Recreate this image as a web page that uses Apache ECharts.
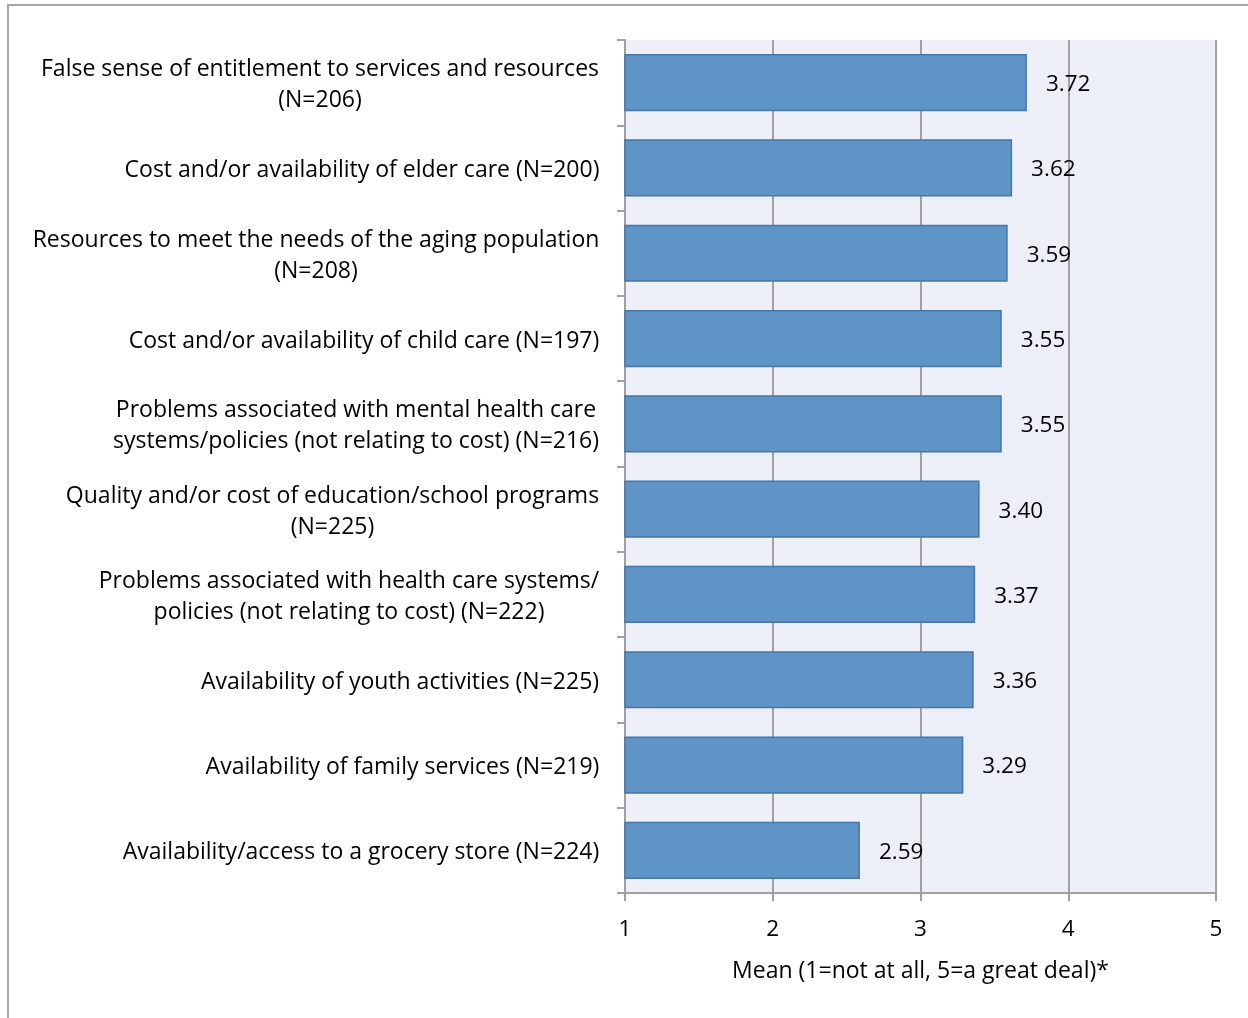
<!DOCTYPE html>
<html>
<head>
<meta charset="utf-8">
<script src="https://cdn.jsdelivr.net/npm/echarts@6/dist/echarts.min.js"></script>
<style>
html,body{margin:0;padding:0;background:#fff;overflow:hidden;}
#frame{position:absolute;left:7px;top:4px;width:1400px;height:1200px;border:2px solid #a6a6a6;box-sizing:border-box;}
#chart{position:absolute;left:0;top:0;width:1248px;height:1018px;}
</style>
</head>
<body>
<div id="frame"></div>
<div id="chart"></div>
<script>
const categories = [
  "False sense of entitlement to services and resources\n(N=206)",
  "Cost and/or availability of elder care (N=200)",
  "Resources to meet the needs of the aging population\n(N=208)",
  "Cost and/or availability of child care (N=197)",
  "Problems associated with mental health care\nsystems/policies (not relating to cost) (N=216)",
  "Quality and/or cost of education/school programs\n(N=225)",
  "Problems associated with health care systems/\npolicies (not relating to cost) (N=222)",
  "Availability of youth activities (N=225)",
  "Availability of family services (N=219)",
  "Availability/access to a grocery store (N=224)"
];
const means = [3.72, 3.62, 3.59, 3.55, 3.55, 3.40, 3.37, 3.36, 3.29, 2.59];
const xTicks = [1, 2, 3, 4, 5];
const axisTitle = "Mean (1=not at all, 5=a great deal)*";

const FONT = 'Open Sans';
const FS = 23;

// rich styles so that multi-line labels are centred within their block
const ctx = document.createElement('canvas').getContext('2d');
ctx.font = FS + 'px "' + FONT + '"';
const rich = {};
categories.forEach((c, i) => {
  const w = Math.max(...c.split('\n').map(s => ctx.measureText(s).width));
  rich['c' + i] = {width: Math.ceil(w) + 1, align: 'center', fontFamily: FONT, fontSize: FS, lineHeight: 31, color: '#000'};
});

const chart = echarts.init(document.getElementById('chart'), null, {renderer:'canvas'});
chart.setOption({
  animation: false,
  backgroundColor: 'transparent',
  grid: {left: 625, right: 32, top: 40, bottom: 125, containLabel: false,
         show: true, backgroundColor: '#ECEFF7', borderWidth: 0},
  xAxis: {
    type: 'value', min: xTicks[0], max: xTicks[xTicks.length-1], interval: 1,
    axisLine: {show: true, onZero: false, lineStyle: {color: '#a0a0a0', width: 2}},
    axisTick: {show: true, length: 8, lineStyle: {color: '#a0a0a0', width: 2}},
    splitLine: {show: true, lineStyle: {color: '#a0a0a0', width: 2}},
    axisLabel: {color: '#000', fontFamily: FONT, fontSize: 22.5, margin: 25},
    name: axisTitle, nameLocation: 'middle', nameGap: 67,
    nameTextStyle: {color: '#000', fontFamily: FONT, fontSize: FS}
  },
  yAxis: {
    type: 'category', data: categories, inverse: true,
    axisLine: {show: true, lineStyle: {color: '#a0a0a0', width: 2}},
    axisTick: {show: true, length: 8, alignWithLabel: false, lineStyle: {color: '#a0a0a0', width: 2}},
    axisLabel: {color: '#000', fontFamily: FONT, fontSize: FS, margin: 25, lineHeight: 31, align: 'right',
      padding: [5, 0, 0, 0],
      formatter: (v, i) => v.split('\n').map(s => '{c' + i + '|' + s + '}').join('\n'),
      rich: rich}
  },
  series: [{
    type: 'bar', data: means, barCategoryGap: '33%',
    itemStyle: {color: '#5E94C6', borderColor: '#4876A6', borderWidth: 1.5},
    label: {show: true, position: 'right', distance: 19, offset: [0, 2], color: '#000',
            fontFamily: FONT, fontSize: 22.5, formatter: p => p.value.toFixed(2)}
  }]
});
</script>
</body>
</html>
